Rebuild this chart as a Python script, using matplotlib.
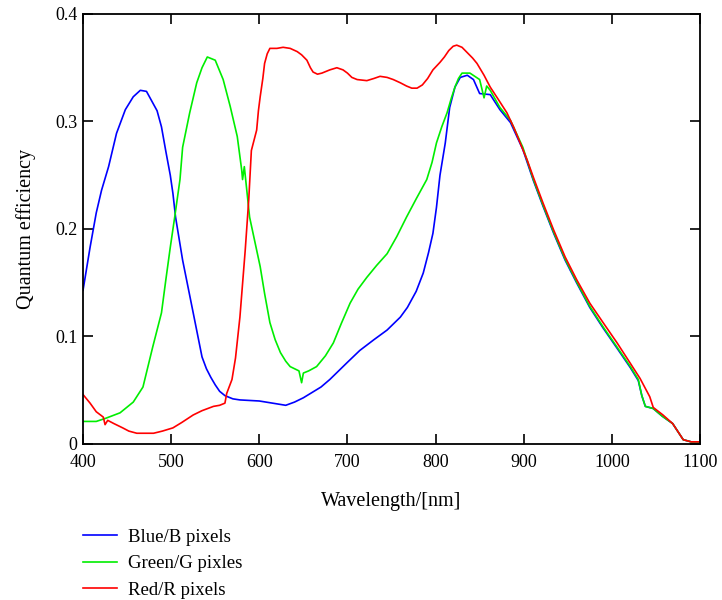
import matplotlib
matplotlib.use("Agg")
import matplotlib.pyplot as plt
from matplotlib.ticker import FixedFormatter, FixedLocator

plt.rcParams['font.family'] = ['Liberation Serif', 'DejaVu Serif']

# data
blue_nm = [400, 408, 415, 421, 429, 438, 448, 457, 465, 472, 476, 484, 489, 494, 499,
           502, 505, 513, 525, 535, 540, 545, 550, 555, 561, 570, 578, 600, 615, 630,
           640, 650, 660, 670, 680, 690, 700, 714, 730, 745, 760, 768, 778, 786, 792,
           797, 801, 805, 808, 811, 816, 822, 828, 836, 843, 850,
           862, 873, 885, 899, 911, 922, 934, 947, 960, 975, 990, 1006, 1021, 1030,
           1034, 1038, 1047, 1057, 1069, 1081, 1090, 1100]
blue_qe = [0.143, 0.183, 0.215, 0.236, 0.258, 0.289, 0.311, 0.323, 0.329, 0.328, 0.322,
           0.310, 0.295, 0.272, 0.250, 0.233, 0.211, 0.171, 0.122, 0.081, 0.070, 0.062,
           0.055, 0.049, 0.045, 0.042, 0.041, 0.040, 0.038, 0.036, 0.039, 0.043, 0.048,
           0.053, 0.060, 0.068, 0.076, 0.087, 0.097, 0.106, 0.118, 0.127, 0.142, 0.159,
           0.178, 0.196, 0.220, 0.250, 0.265, 0.280, 0.313, 0.332, 0.341, 0.343, 0.339,
           0.326,
           0.325, 0.311, 0.299, 0.274, 0.245, 0.221, 0.196, 0.171, 0.150, 0.127, 0.108,
           0.089, 0.071, 0.059, 0.045, 0.035, 0.033, 0.026, 0.019, 0.004, 0.002, 0.002]

green_nm = [400, 415, 426, 442, 457, 468, 479, 489, 494, 499, 504, 510, 513, 521, 529,
            535, 541, 550, 559, 567, 575, 580, 581, 583, 589, 595, 601, 606, 612, 618,
            624, 630, 635, 640, 645, 648, 650, 656, 665, 675, 684, 693, 703, 712, 722,
            733, 745, 756, 767, 778, 790, 796, 801, 807, 813, 818, 822, 826, 830, 839,
            850, 855, 858, 862, 873, 885, 899, 911, 922, 934, 947, 960, 975, 990, 1006,
            1021, 1030, 1034, 1038, 1047, 1057, 1069, 1081, 1090, 1100]
green_qe = [0.021, 0.021, 0.024, 0.029, 0.039, 0.053, 0.090, 0.122, 0.153, 0.183, 0.211,
            0.246, 0.276, 0.308, 0.336, 0.350, 0.360, 0.357, 0.339, 0.314, 0.286, 0.255,
            0.246, 0.258, 0.211, 0.188, 0.165, 0.140, 0.113, 0.097, 0.085, 0.077, 0.072,
            0.070, 0.068, 0.057, 0.066, 0.068, 0.072, 0.082, 0.094, 0.112, 0.131, 0.144,
            0.155, 0.166, 0.177, 0.193, 0.211, 0.228, 0.246, 0.262, 0.280, 0.295, 0.308,
            0.322, 0.332, 0.340, 0.345, 0.345, 0.339, 0.322, 0.333, 0.329, 0.313, 0.301,
            0.276, 0.246, 0.222, 0.197, 0.172, 0.151, 0.128, 0.109, 0.090, 0.072, 0.060,
            0.045, 0.035, 0.033, 0.026, 0.019, 0.004, 0.002, 0.002]

red_nm = [400, 408, 415, 423, 425, 428, 435, 445, 452, 461, 470, 480, 490, 502, 512,
          525, 535, 548, 555, 561, 563, 569, 573, 578, 584, 588, 591, 597, 599, 601,
          604, 606, 609, 612, 620, 627, 635, 643, 648, 654, 658, 661, 666, 671, 680,
          688, 695, 700, 705, 711, 722, 730, 737, 745, 752, 760, 767, 773, 779, 785,
          791, 797, 805, 810, 815, 820, 824, 830, 836, 842, 847, 855, 862, 870, 881,
          889, 896, 904, 911, 922, 934, 947, 960, 975, 990, 1006, 1021, 1032, 1043,
          1047, 1058, 1069, 1081, 1090, 1100]
red_qe = [0.046, 0.038, 0.030, 0.025, 0.018, 0.022, 0.019, 0.015, 0.012, 0.010, 0.010,
          0.010, 0.012, 0.015, 0.020, 0.027, 0.031, 0.035, 0.036, 0.038, 0.047, 0.060,
          0.080, 0.118, 0.180, 0.227, 0.273, 0.292, 0.310, 0.323, 0.340, 0.354, 0.363,
          0.368, 0.368, 0.369, 0.368, 0.365, 0.362, 0.357, 0.350, 0.346, 0.344, 0.345,
          0.348, 0.350, 0.348, 0.345, 0.341, 0.339, 0.338, 0.340, 0.342, 0.341, 0.339,
          0.336, 0.333, 0.331, 0.331, 0.334, 0.340, 0.348, 0.355, 0.360, 0.366, 0.370,
          0.371, 0.369, 0.364, 0.359, 0.354, 0.343, 0.332, 0.322, 0.308, 0.294, 0.280,
          0.264, 0.248, 0.224, 0.199, 0.174, 0.153, 0.131, 0.113, 0.094, 0.075, 0.061,
          0.044, 0.034, 0.027, 0.019, 0.004, 0.002, 0.002]

x_ticks = [400, 500, 600, 700, 800, 900, 1000, 1100]
x_labels = ['400', '500', '600', '700', '800', '900', '1000', '1100']
y_ticks = [0, 0.1, 0.2, 0.3, 0.4]
y_labels = ['0', '0.1', '0.2', '0.3', '0.4']

fig = plt.figure(figsize=(7.22, 6.0), dpi=100)
ax = fig.add_axes([0.115, 0.26, 0.8545, 0.7167])

ax.plot(blue_nm, blue_qe, color='#0000ff', lw=1.2, label='Blue/B pixels')
ax.plot(green_nm, green_qe, color='#00ee00', lw=1.2, label='Green/G pixles')
ax.plot(red_nm, red_qe, color='#ff0000', lw=1.2, label='Red/R pixels')

ax.set_xlim(400, 1100)
ax.set_ylim(0, 0.4)
ax.xaxis.set_major_locator(FixedLocator(x_ticks))
ax.xaxis.set_major_formatter(FixedFormatter(x_labels))
ax.yaxis.set_major_locator(FixedLocator(y_ticks))
ax.yaxis.set_major_formatter(FixedFormatter(y_labels))
ax.tick_params(direction='in', length=7, width=1.2, top=True, right=True,
               labelsize=13)
ax.tick_params(axis='x', pad=7)
ax.tick_params(axis='y', pad=4)
for s in ax.spines.values():
    s.set_linewidth(1.3)

ax.set_xlabel('Wavelength/[nm]', fontsize=14.5, labelpad=15)
ax.set_ylabel('Quantum efficiency', fontsize=14.5, labelpad=14)

fig.legend(loc='upper left', bbox_to_anchor=(0.105, 0.131), frameon=False,
           fontsize=13.5, handlelength=1.8, handletextpad=0.6, labelspacing=0.49,
           borderaxespad=0)

fig.savefig('out.png', dpi=100)
